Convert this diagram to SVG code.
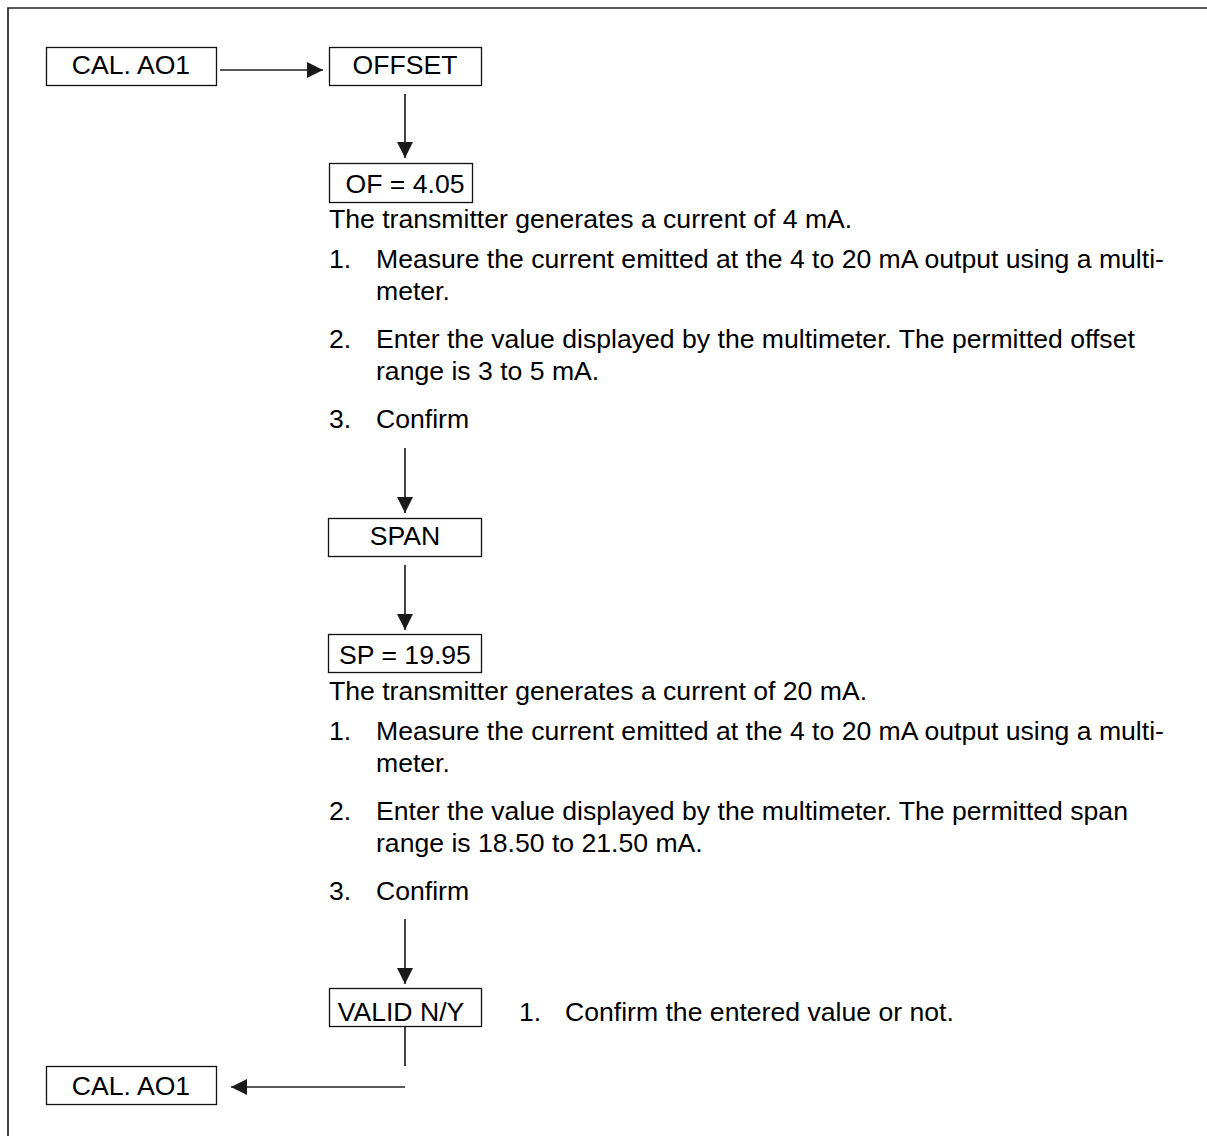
<svg xmlns="http://www.w3.org/2000/svg" width="1207" height="1136" viewBox="0 0 1207 1136">
<style>
text{font-family:"Liberation Sans",Arial,sans-serif;font-size:26.6px;fill:#000}
.box{fill:#fff;stroke:#111;stroke-width:1.3}
.c{text-anchor:middle}
.ln{stroke:#222;stroke-width:1.7;fill:none}
</style>
<defs>
<marker id="ah" markerUnits="userSpaceOnUse" markerWidth="17" markerHeight="16" refX="16" refY="8" orient="auto" overflow="visible">
<path d="M0,0 L16,8 L0,16 z" fill="#1a1a1a"/>
</marker>
</defs>
<rect width="1207" height="1136" fill="#fff"/>
<g id="frame">
<path class="ln" d="M8,1136 V8 H1207" stroke-width="1.5"/>
</g>
<g id="connectors">
<line class="ln" x1="220" y1="70" x2="323" y2="70" marker-end="url(#ah)"/>
<line class="ln" x1="405" y1="94" x2="405" y2="158" marker-end="url(#ah)"/>
<line class="ln" x1="405" y1="448" x2="405" y2="513" marker-end="url(#ah)"/>
<line class="ln" x1="405" y1="565" x2="405" y2="630" marker-end="url(#ah)"/>
<line class="ln" x1="405" y1="919" x2="405" y2="984" marker-end="url(#ah)"/>
<line class="ln" x1="405" y1="1027" x2="405" y2="1066"/>
<line class="ln" x1="405" y1="1087" x2="231" y2="1087" marker-end="url(#ah)"/>
</g>
<g id="cal1">
<rect class="box" x="46.5" y="47.5" width="170" height="38"/>
<text class="c" x="131" y="74">CAL. AO1</text>
</g>
<g id="offset">
<rect class="box" x="329.5" y="47.5" width="152" height="38"/>
<text class="c" x="405" y="74">OFFSET</text>
</g>
<g id="of">
<rect class="box" x="329.5" y="163.5" width="143" height="39"/>
<text class="c" x="405" y="193">OF = 4.05</text>
</g>
<g id="offset-text">
<text x="329" y="228">The transmitter generates a current of 4 mA.</text>
<text x="329" y="268">1.</text>
<text x="376" y="268">Measure the current emitted at the 4 to 20 mA output using a multi-</text>
<text x="376" y="300">meter.</text>
<text x="329" y="348">2.</text>
<text x="376" y="348">Enter the value displayed by the multimeter. The permitted offset</text>
<text x="376" y="380">range is 3 to 5 mA.</text>
<text x="329" y="428">3.</text>
<text x="376" y="428">Confirm</text>
</g>
<g id="span">
<rect class="box" x="328.5" y="518.5" width="153" height="38"/>
<text class="c" x="405" y="545">SPAN</text>
</g>
<g id="sp">
<rect class="box" x="328.5" y="634.5" width="153" height="38"/>
<text class="c" x="405" y="664">SP = 19.95</text>
</g>
<g id="span-text">
<text x="329" y="700">The transmitter generates a current of 20 mA.</text>
<text x="329" y="740">1.</text>
<text x="376" y="740">Measure the current emitted at the 4 to 20 mA output using a multi-</text>
<text x="376" y="772">meter.</text>
<text x="329" y="820">2.</text>
<text x="376" y="820">Enter the value displayed by the multimeter. The permitted span</text>
<text x="376" y="852">range is 18.50 to 21.50 mA.</text>
<text x="329" y="900">3.</text>
<text x="376" y="900">Confirm</text>
</g>
<g id="valid">
<rect class="box" x="329.5" y="988.5" width="152" height="38"/>
<text class="c" x="401" y="1021">VALID N/Y</text>
</g>
<g id="valid-text">
<text x="519" y="1021">1.</text>
<text x="565" y="1021">Confirm the entered value or not.</text>
</g>
<g id="cal2">
<rect class="box" x="46.5" y="1066.5" width="170" height="38"/>
<text class="c" x="131" y="1095">CAL. AO1</text>
</g>
</svg>
